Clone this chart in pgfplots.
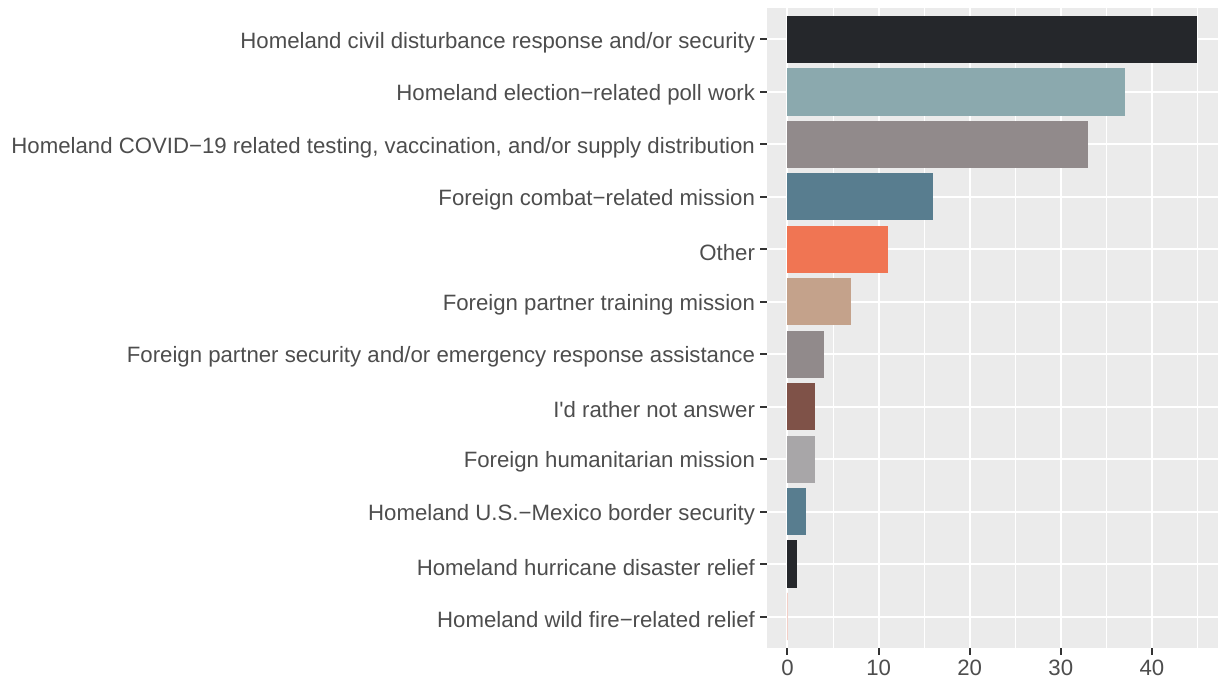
\documentclass[border=0pt]{standalone}
\usepackage{fontspec}
\setmainfont{Liberation Sans}
\usepackage{pgfplots}
\pgfplotsset{compat=1.18}
\definecolor{bg}{HTML}{EBEBEB}
\definecolor{tl}{HTML}{4D4D4D}
\definecolor{tk}{HTML}{333333}
\definecolor{c1}{HTML}{25272B}
\definecolor{c2}{HTML}{8BA9AE}
\definecolor{c3}{HTML}{918A8B}
\definecolor{c4}{HTML}{587D8F}
\definecolor{c5}{HTML}{F07553}
\definecolor{c6}{HTML}{C4A28B}
\definecolor{c7}{HTML}{918A8B}
\definecolor{c8}{HTML}{7F5248}
\definecolor{c9}{HTML}{A8A6A8}
\definecolor{c10}{HTML}{587D8F}
\definecolor{c11}{HTML}{25272B}
\definecolor{c12}{HTML}{F3CFC7}
\begin{document}
\begin{tikzpicture}[x=1pt,y=1pt]
\begin{axis}[
  name=ax,
  scale only axis,
  width=451pt, height=640pt,
  xmin=-2.25, xmax=47.25,
  ymin=-0.6, ymax=11.6,
  y dir=reverse,
  axis background/.style={fill=bg},
  axis line style={draw=none},
  xtick={0,10,20,30,40},
  minor xtick={5,15,25,35,45},
  ytick={0,...,11},
  yticklabels={
    Homeland civil disturbance response and/or security,
    Homeland election{\textminus}related poll work,
    {Homeland COVID{\textminus}19 related testing, vaccination, and/or supply distribution},
    Foreign combat{\textminus}related mission,
    Other,
    Foreign partner training mission,
    Foreign partner security and/or emergency response assistance,
    I\textquotesingle d rather not answer,
    Foreign humanitarian mission,
    Homeland U.S.{\textminus}Mexico border security,
    Homeland hurricane disaster relief,
    Homeland wild fire{\textminus}related relief},
  xtick pos=bottom, ytick pos=left,
  tick align=outside,
  major tick length=6.5pt,
  minor tick length=0pt,
  tick style={draw=tk, line width=2pt},
  xmajorgrids, ymajorgrids, xminorgrids,
  major grid style={draw=white, line width=2pt},
  minor grid style={draw=white, line width=1pt},
  ticklabel style={font=\fontsize{22.2}{25}\selectfont, text=tl},
  yticklabel style={xshift=-2pt, yshift=-3pt},
  xticklabel style={yshift=-2pt},
  /pgf/number format/assume math mode=true,
  xbar, bar width=0.9, bar shift=0pt,
]
\addplot[fill=c1, draw=none] coordinates {(45,0)};
\addplot[fill=c2, draw=none] coordinates {(37,1)};
\addplot[fill=c3, draw=none] coordinates {(33,2)};
\addplot[fill=c4, draw=none] coordinates {(16,3)};
\addplot[fill=c5, draw=none] coordinates {(11,4)};
\addplot[fill=c6, draw=none] coordinates {(7,5)};
\addplot[fill=c7, draw=none] coordinates {(4,6)};
\addplot[fill=c8, draw=none] coordinates {(3,7)};
\addplot[fill=c9, draw=none] coordinates {(3,8)};
\addplot[fill=c10, draw=none] coordinates {(2,9)};
\addplot[fill=c11, draw=none] coordinates {(1,10)};
\addplot[fill=c12, draw=c12, line width=0.6pt] coordinates {(0,11)};
\end{axis}
\path ([shift={(-767pt,-34pt)}]ax.south west) rectangle ([shift={(3pt,8pt)}]ax.north east);
\end{tikzpicture}
\end{document}
